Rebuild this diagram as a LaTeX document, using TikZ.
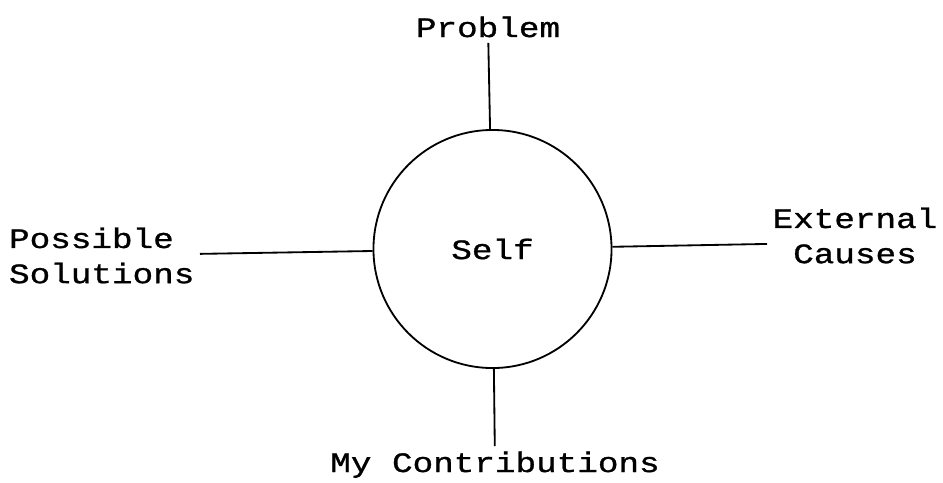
\documentclass[tikz,border=0pt]{standalone}
\usepackage{fontspec}
\setmonofont[FakeStretch=1.22, FakeBold=1]{Liberation Mono}
\usetikzlibrary{positioning}

\begin{document}
\begin{tikzpicture}[x=0.025cm, y=-0.025cm, line width=1.3pt,
    every node/.style={font=\ttfamily\fontsize{20}{25}\selectfont}]
            \useasboundingbox (0,0) rectangle (943,482);
            % nodes
            \node[draw, circle, minimum size=5.95cm] (self) at (492.5,249) {Self};
            \node[anchor=base] (problem) at (488,37) {Problem};
            \node[anchor=east, align=left] (solutions) at (200,255.5) {Possible\\Solutions};
            \node[anchor=west, align=center] (causes) at (767,235.5) {External\\Causes};
            \node[anchor=base] (contrib) at (495,472) {My Contributions};
            % lines
            \draw (problem) -- (self);
            \draw (solutions) -- (self);
            \draw (self) -- ([yshift=-6pt]causes.west);
            \draw (self) -- (contrib);
        \end{tikzpicture}
\end{document}
